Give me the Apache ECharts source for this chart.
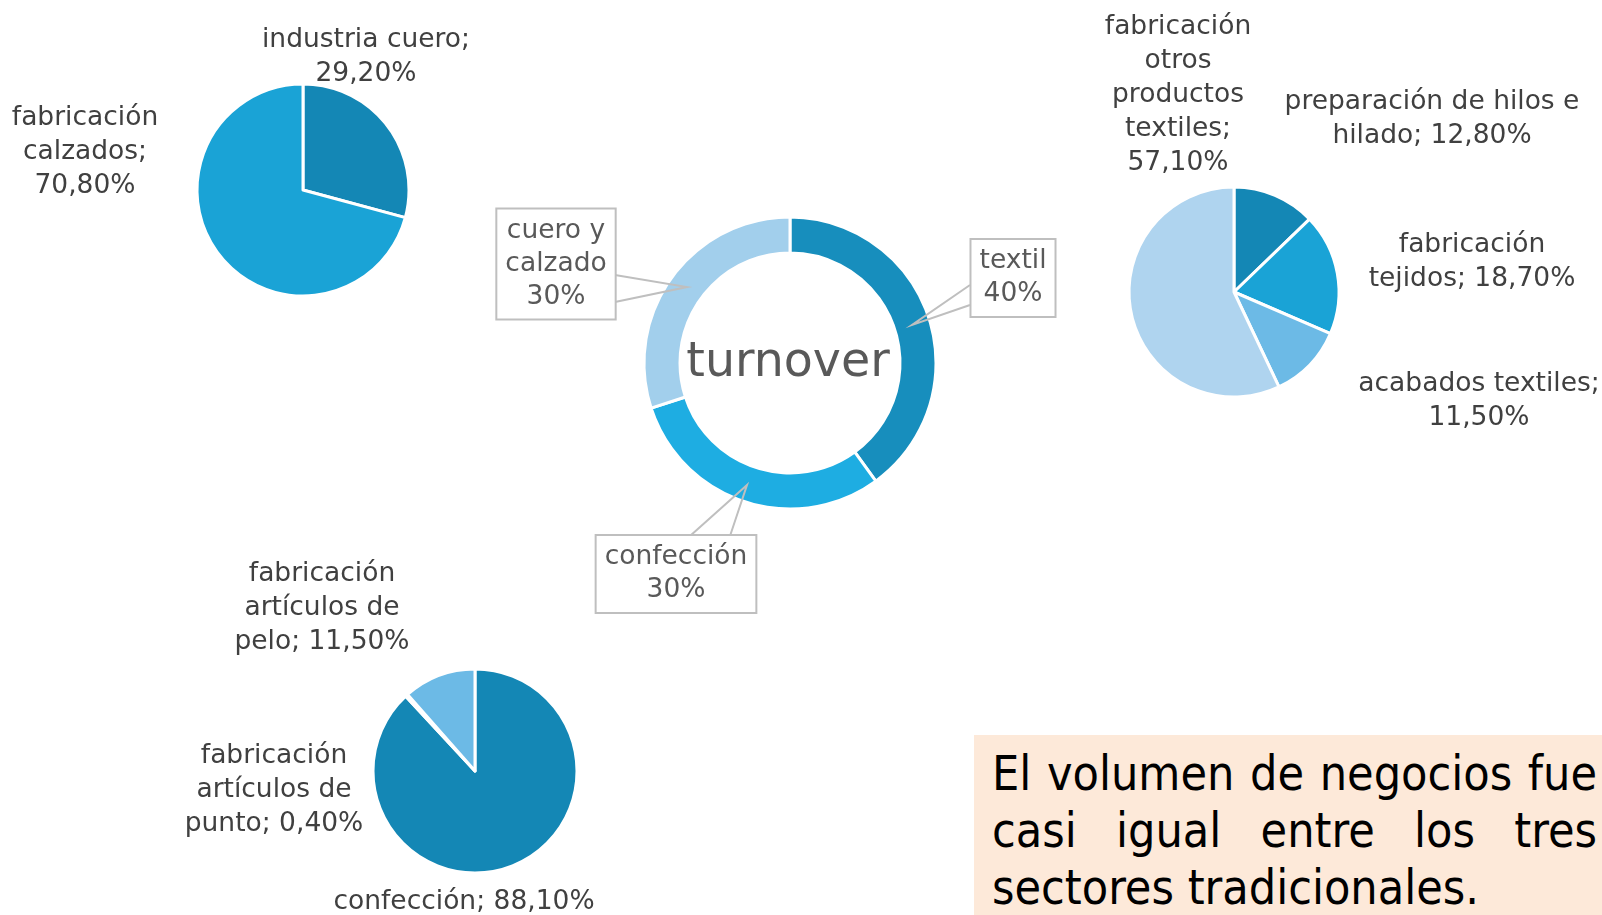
<!DOCTYPE html>
<html>
<head>
<meta charset="utf-8">
<title>turnover</title>
<script src="https://cdn.jsdelivr.net/npm/echarts@6/dist/echarts.min.js"></script>
<style>
    html, body { margin: 0; padding: 0; background: #fff; }
    #chart-1 { width: 1602px; height: 915px; }
    .nota {
        position: absolute; left: 974px; top: 735px; width: 628px; height: 180px;
        box-sizing: border-box; padding: 10px 5px 0 18px; background: #fde9d9;
        font-family: 'DejaVu Sans Condensed', 'DejaVu Sans', sans-serif;
        font-size: 48px; line-height: 57px; color: #000;
    }
    .nota div { text-align: justify; text-align-last: justify; }
    .nota div.ult { text-align: left; text-align-last: left; }
</style>
</head>
<body>
<div id="chart-1"></div>
<div class="nota">
    <div>El volumen de negocios fue</div>
    <div>casi igual entre los tres</div>
    <div class="ult">sectores tradicionales.</div>
</div>
<script type="text/javascript">
    // datos: reparto del volumen de negocios (%)
    var sectores = ['textil', 'confección', 'cuero y calzado'];
    var sectoresPct = [40, 30, 30];

    var cueroNombres = ['industria cuero', 'fabricación calzados'];
    var cueroPct = [29.2, 70.8];

    var textilNombres = ['preparación de hilos e hilado', 'fabricación tejidos', 'acabados textiles', 'fabricación otros productos textiles'];
    var textilPct = [12.8, 18.7, 11.5, 57.1];

    var confNombres = ['confección', 'fabricación artículos de punto', 'fabricación artículos de pelo'];
    var confPct = [88.1, 0.4, 11.5];

    // colores
    var azulOscuro = '#1487b5', azulMedio = '#1aa3d6', azulClaro = '#6cbae6', azulPalido = '#afd4ef';

    // cortes de linea de las etiquetas
    var cortes = {
        'industria cuero': 'industria cuero;\n',
        'fabricación calzados': 'fabricación\ncalzados;\n',
        'preparación de hilos e hilado': 'preparación de hilos e\nhilado; ',
        'fabricación tejidos': 'fabricación\ntejidos; ',
        'acabados textiles': 'acabados textiles;\n',
        'fabricación otros productos textiles': 'fabricación\notros\nproductos\ntextiles;\n',
        'confección': 'confección; ',
        'fabricación artículos de punto': 'fabricación\nartículos de\npunto; ',
        'fabricación artículos de pelo': 'fabricación\nartículos de\npelo; '
    };

    function pct(v) {
        return v.toFixed(2).replace('.', ',') + '%';
    }

    function datos(nombres, valores, colores) {
        return nombres.map(function (n, i) {
            return { name: n, value: valores[i], itemStyle: { color: colores[i] } };
        });
    }

    var fuente = 'DejaVu Sans';

    function tarta(centro, radio, data, posiciones) {
        return {
            type: 'pie',
            center: centro,
            radius: radio,
            startAngle: 90,
            clockwise: true,
            avoidLabelOverlap: false,
            silent: true,
            itemStyle: { borderColor: '#fff', borderWidth: 3 },
            label: {
                show: true,
                position: 'outside',
                fontFamily: fuente,
                fontSize: 26.5,
                lineHeight: 34,
                color: '#404040',
                formatter: function (p) { return cortes[p.name] + pct(p.value); }
            },
            labelLine: { show: false },
            labelLayout: function (p) {
                var q = posiciones[p.dataIndex];
                return { x: q[0], y: q[1] + 2, align: 'center', verticalAlign: 'middle' };
            },
            data: data
        };
    }

    // globos del anillo central: centro de la caja y puntos de la flecha
    var globos = [
        { c: [1013, 278], p: [[970, 285], [912, 325], [970, 305]] },
        { c: [676, 574], p: [[690, 536], [747, 485], [730, 536]] },
        { c: [556, 264], p: [[615, 275], [687, 287], [615, 302]] }
    ];

    var myChart = echarts.init(document.getElementById('chart-1'), null, { renderer: 'canvas' });

    var anillo = {
        type: 'pie',
        center: [790, 363],
        radius: [110, 146],
        startAngle: 90,
        clockwise: true,
        avoidLabelOverlap: false,
        silent: true,
        itemStyle: { borderColor: '#fff', borderWidth: 3 },
        label: { show: false },
        labelLine: { show: false },
        data: datos(sectores, sectoresPct, ['#178ebd', '#1eade2', '#a2cfec'])
    };

    // misma geometria, transparente, solo para dibujar los globos por encima del anillo
    var globosSerie = {
        type: 'pie',
        z: 5,
        center: [790, 363],
        radius: [110, 146],
        startAngle: 90,
        clockwise: true,
        avoidLabelOverlap: false,
        silent: true,
        itemStyle: { color: 'rgba(0,0,0,0)', borderWidth: 0 },
        label: {
            show: true,
            position: 'outside',
            fontFamily: fuente,
            fontSize: 26.5,
            lineHeight: 33,
            color: '#595959',
            backgroundColor: '#fff',
            borderColor: '#bfbfbf',
            borderWidth: 2,
            padding: [5, 8],
            formatter: function (p) { return p.name.replace('y ', 'y\n') + '\n' + p.value + '%'; }
        },
        labelLine: { show: true, lineStyle: { color: '#bfbfbf', width: 2 } },
        labelLayout: function (p) {
            var g = globos[p.dataIndex];
            return { x: g.c[0], y: g.c[1], align: 'center', verticalAlign: 'middle', labelLinePoints: g.p };
        },
        data: sectores.map(function (n, i) { return { name: n, value: sectoresPct[i] }; })
    };

    var option = {
        animation: false,
        backgroundColor: '#fff',
        graphic: [{
            type: 'text',
            x: 788,
            y: 364,
            z: 10,
            silent: true,
            style: {
                text: 'turnover',
                fontFamily: fuente,
                fontSize: 47.5,
                fill: '#595959',
                align: 'center',
                verticalAlign: 'middle'
            }
        }],
        series: [
            anillo,
            globosSerie,
            tarta([303, 190], 106, datos(cueroNombres, cueroPct, [azulOscuro, azulMedio]),
                [[366, 55], [85, 150]]),
            tarta([1234, 292], 105, datos(textilNombres, textilPct, [azulOscuro, azulMedio, azulClaro, azulPalido]),
                [[1432, 117], [1472, 260], [1479, 399], [1178, 93]]),
            tarta([475, 771], 102, datos(confNombres, confPct, [azulOscuro, azulMedio, azulClaro]),
                [[464, 900], [274, 788], [322, 606]])
        ]
    };

    myChart.setOption(option);
</script>
</body>
</html>
